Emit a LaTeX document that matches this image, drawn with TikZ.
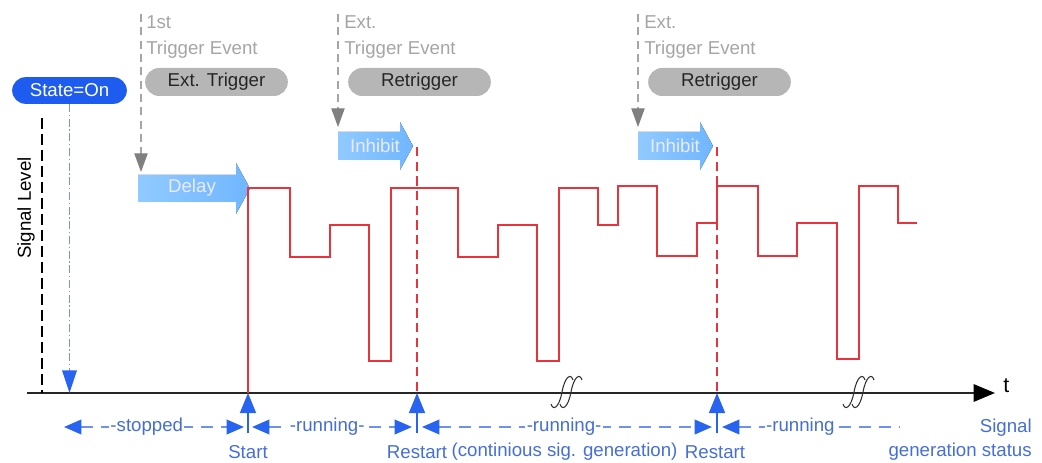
\documentclass[tikz,border=0pt]{standalone}
\usepackage{fontspec}
\setmainfont{Liberation Sans}
\usetikzlibrary{arrows.meta}
\definecolor{sigred}{RGB}{232,50,60}
\definecolor{trgray}{RGB}{165,165,165}
\definecolor{tipgray}{RGB}{128,128,128}
\definecolor{pillgray}{RGB}{182,182,182}
\definecolor{stblue}{RGB}{30,92,240}
\definecolor{arrblue}{RGB}{40,100,240}
\definecolor{dashblue}{RGB}{110,145,240}
\definecolor{txtblue}{RGB}{70,110,215}
\definecolor{lblue}{RGB}{112,182,255}
\definecolor{lblueL}{RGB}{145,202,255}
\definecolor{ddblue}{RGB}{120,145,235}
\tikzset{
  base/.style={font=\fontsize{14}{16}\selectfont},
  pill/.style={base, rounded corners=10.5pt, fill=pillgray, minimum width=107pt, minimum height=21pt, inner sep=0pt, text=black!85},
  statebox/.style={base, rounded corners=10pt, fill=stblue, text=white, minimum width=86pt, minimum height=20pt, inner sep=0pt},
  trlabel/.style={font=\fontsize{14}{20}\selectfont, text=trgray, align=left, anchor=north west, inner sep=0pt},
  trig/.style={draw=trgray, line width=0.9pt, dash pattern=on 6pt off 4pt, -{Triangle[length=14pt,width=10pt,color=tipgray]}},
  blockarrow/.style={left color=lblueL, right color=lblue},
  blocktext/.style={base, text=white!92!blue},
  sig/.style={draw=sigred, line width=1.1pt},
  rdash/.style={draw=sigred, line width=1.1pt, dash pattern=on 7pt off 4pt},
  statline/.style={draw=dashblue, line width=1.2pt, dash pattern=on 9pt off 6pt},
  stattext/.style={base, text=txtblue, fill=white, inner sep=1pt},
  uparrow/.style={draw=arrblue, line width=1.2pt, -{Triangle[length=15pt,width=12pt,color=arrblue]}},
  bottomlabel/.style={base, text=txtblue, inner sep=0pt},
}
\begin{document}
\begin{tikzpicture}[x=0.75pt,y=-0.75pt]
\useasboundingbox (0,0) rectangle (1042,463);

% axis
\coordinate (axL) at (27,393);
\coordinate (axR) at (995,393);
\draw[line width=1.5pt, black!85, -{Triangle[length=16pt,width=13pt,color=black]}] (axL) -- (axR);
\node[font=\fontsize{16}{18}\selectfont, anchor=west, inner sep=0pt] (tlab) at (1003,386) {t};

% break marks
\foreach \bx in {566,858}{
  \foreach \dx in {-4,5}{
    \draw[black!80, line width=0.8pt] (\bx+\dx-11,404) .. controls (\bx+\dx-9,411) and (\bx+\dx-3,408) .. (\bx+\dx,392)
      .. controls (\bx+\dx+3,376) and (\bx+\dx+9,373) .. (\bx+\dx+11,380);
  }
}

% signal level
\coordinate (slTop) at (42,118);
\draw[black, line width=1pt, dash pattern=on 8pt off 4pt] (slTop) -- (slTop |- axL);
\node[base, rotate=90, inner sep=0pt] (siglev) at (26,208) {Signal Level};

% State=On
\node[statebox] (st) at (69.5,90.5) {State=On};
\draw[ddblue, line width=1.1pt, dash pattern=on 6pt off 2pt on 1pt off 2pt, -{Triangle[length=17pt,width=11pt,color=arrblue]}] (st.south) -- (st.south |- axL);

% trigger 1
\coordinate (t1a) at (141,14);
\coordinate (t1b) at (141,172);
\draw[trig] (t1a) -- (t1b);
\node[trlabel] (t1l) at (146,15) {1st\\Trigger Event};
\node[pill] (p1) at (216.5,82) {Ext. Trigger};
\fill[blockarrow] (138,175) -- (236,175) -- (236,163) -- (250,188.5) -- (236,214) -- (236,202) -- (138,202) -- cycle;
\node[blocktext] (delay) at (192,188) {Delay};

% trigger 2
\coordinate (t2a) at (338,14);
\coordinate (t2b) at (338,127);
\draw[trig] (t2a) -- (t2b);
\node[trlabel] (t2l) at (344,15) {Ext.\\Trigger Event};
\node[pill] (p2) at (419.5,82) {Retrigger};
\fill[blockarrow] (338,132) -- (400,132) -- (400,122) -- (413,146) -- (400,170) -- (400,160) -- (338,160) -- cycle;
\node[blocktext] (inh1) at (375,146) {Inhibit};

% trigger 3
\coordinate (t3a) at (638,14);
\coordinate (t3b) at (638,127);
\draw[trig] (t3a) -- (t3b);
\node[trlabel] (t3l) at (644,15) {Ext.\\Trigger Event};
\node[pill] (p3) at (719.5,82) {Retrigger};
\fill[blockarrow] (638,132) -- (700,132) -- (700,122) -- (713,146) -- (700,170) -- (700,160) -- (638,160) -- cycle;
\node[blocktext] (inh2) at (675,146) {Inhibit};

% restart dashed lines
\coordinate (rs1) at (417,147);
\coordinate (rs2) at (717,147);
\draw[rdash] (rs1) -- (rs1 |- axL);
\draw[rdash] (rs2) -- (rs2 |- axL);

% signal
\draw[sig, line join=miter] (248,393) -- (248,188) -- (290,188) -- (290,257) -- (330,257) -- (330,225) -- (369,225) -- (369,361) -- (391,361) -- (391,188) -- (458,188) -- (458,257) -- (498,257) -- (498,225) -- (537,225) -- (537,361) -- (559,361) -- (559,188) -- (598,188) -- (598,225) -- (618,225) -- (618,186) -- (657,186) -- (657,256) -- (697,256) -- (697,223) -- (717,223) -- (717,186) -- (758,186) -- (758,256) -- (797,256) -- (797,223) -- (837,223) -- (837,359) -- (859,359) -- (859,186) -- (898,186) -- (898,223) -- (917,223);

% status row
\coordinate (a0) at (64,427);
\coordinate (a1) at (244,427);
\coordinate (a2) at (252,427);
\coordinate (a3) at (412,427);
\coordinate (a4) at (422,427);
\coordinate (a5) at (712,427);
\coordinate (a6) at (722,427);
\coordinate (a7) at (900,427);
\draw[statline, {Triangle[length=13pt,width=11pt,color=arrblue]}-{Triangle[length=13pt,width=11pt,color=arrblue]}] (a0) -- (a1) node[stattext, pos=0.46] (s1) {-stopped};
\draw[statline, {Triangle[length=13pt,width=11pt,color=arrblue]}-{Triangle[length=13pt,width=11pt,color=arrblue]}] (a2) -- (a3) node[stattext, pos=0.47] (s2) {-running-};
\draw[statline, {Triangle[length=13pt,width=11pt,color=arrblue]}-{Triangle[length=13pt,width=11pt,color=arrblue]}] (a4) -- (a5) node[stattext, pos=0.49] (s3) {-running-};
\draw[statline, {Triangle[length=13pt,width=11pt,color=arrblue]}-] (a6) -- (a7) node[stattext, pos=0.44] (s4) {-running};

% up arrows
\coordinate (u1) at (248,433);
\coordinate (u2) at (417,433);
\coordinate (u3) at (717,433);
\draw[uparrow] (u1) -- (u1 |- axL);
\draw[uparrow] (u2) -- (u2 |- axL);
\draw[uparrow] (u3) -- (u3 |- axL);

% bottom labels
\node[bottomlabel] (start) at (248,452) {Start};
\node[bottomlabel] (rst1) at (417,452) {Restart};
\node[bottomlabel] (rst2) at (715,452) {Restart};
\node[bottomlabel, anchor=west] (cont) at ([xshift=3pt]rst1.east) {(continious sig. generation)};
\node[bottomlabel, anchor=north east, align=right, font=\fontsize{14}{18}\selectfont] (sgs) at (1032,419) {Signal\\generation status};
\end{tikzpicture}
\end{document}
